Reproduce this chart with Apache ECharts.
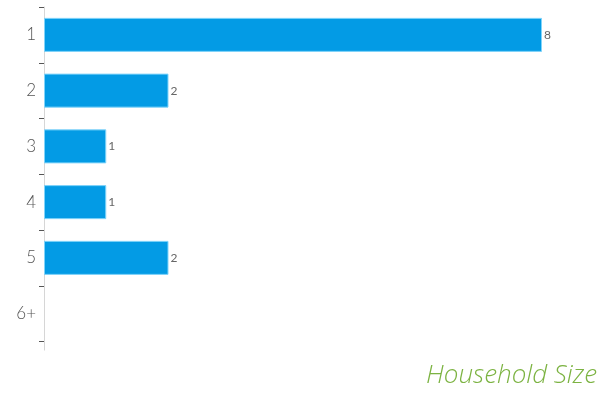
<!DOCTYPE html>
<html>
<head>
<meta charset="utf-8">
<style>
  html, body { margin: 0; padding: 0; background: #fff; }
  #chart { width: 602px; height: 394px; }
</style>
<script src="https://cdn.jsdelivr.net/npm/echarts@6/dist/echarts.min.js"></script>
</head>
<body>
<div id="chart"></div>
<script>
// Household size distribution
const sizes = ['1', '2', '3', '4', '5', '6+'];
const households = [8, 2, 1, 1, 2, 0];
const chartTitle = 'Household Size';

const chart = echarts.init(document.getElementById('chart'));

// Empty categories get no outline so nothing is drawn for them
const barData = households.map(v => ({
  value: v,
  itemStyle: { borderWidth: v > 0 ? 1 : 0 }
}));

chart.setOption({
  animation: false,
  title: {
    text: chartTitle,
    right: 0,
    bottom: 0,
    textStyle: {
      color: '#7cb342',
      fontFamily: 'Open Sans',
      fontStyle: 'italic',
      fontWeight: 300,
      fontSize: 26
    }
  },
  grid: { left: 44, right: 60, top: 7, bottom: 52.5 },
  xAxis: {
    type: 'value',
    min: 0,
    max: 8,
    show: false
  },
  yAxis: {
    type: 'category',
    data: sizes,
    inverse: true,
    axisLine: { show: true, lineStyle: { color: '#d6d6d6', width: 1 } },
    axisTick: { show: true, length: 5, lineStyle: { color: '#555', width: 1 } },
    axisLabel: { color: '#555', fontFamily: 'Lato', fontWeight: 300, fontSize: 17, margin: 8, padding: [4, 0, 0, 0] },
    splitLine: { show: false }
  },
  series: [{
    type: 'bar',
    data: barData,
    barWidth: '61%',
    itemStyle: { color: '#039be5', borderColor: '#81d4fa' },
    label: {
      show: true,
      position: 'right',
      distance: 2,
      color: '#666',
      fontFamily: 'Lato',
      fontSize: 12,
      formatter: p => (p.value > 0 ? p.value : '')
    }
  }]
});

// Extend the axis line slightly below the last band
const axisX = chart.convertToPixel({ xAxisIndex: 0 }, 0);
const gridRect = chart.getModel().getComponent('grid', 0).coordinateSystem.getRect();
chart.setOption({
  graphic: [{
    type: 'line',
    shape: {
      x1: Math.round(axisX) + 0.5, y1: gridRect.y + gridRect.height,
      x2: Math.round(axisX) + 0.5, y2: gridRect.y + gridRect.height + 9
    },
    style: { stroke: '#d6d6d6', lineWidth: 1 },
    silent: true
  }]
});
</script>
</body>
</html>
